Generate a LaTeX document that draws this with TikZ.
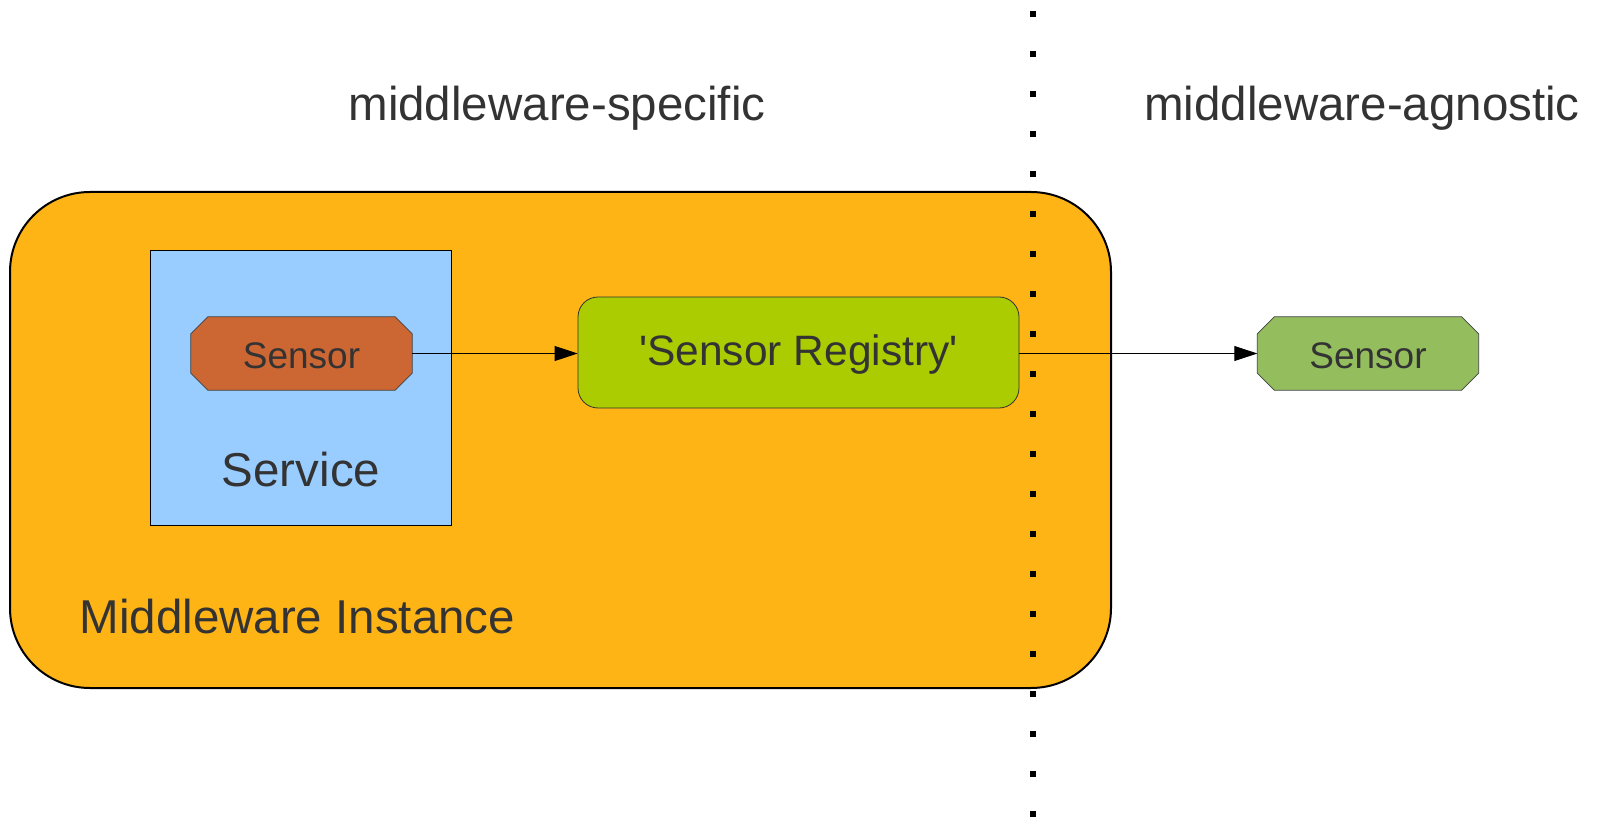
\documentclass[tikz,border=0pt]{standalone}
\usepackage{fontspec}
\setmainfont{Liberation Sans}
\usetikzlibrary{arrows.meta}
\definecolor{txt}{HTML}{333333}
\definecolor{mwfill}{HTML}{FFB416}
\definecolor{svcfill}{HTML}{99CCFF}
\definecolor{regfill}{HTML}{AACC00}
\definecolor{sensA}{HTML}{CC6633}
\definecolor{sensB}{HTML}{94BD5E}
\tikzset{
  bigtext/.style={text=txt,font=\fontsize{47.5}{56}\selectfont},
  sensorbox/.style={draw=none,minimum width=221pt,minimum height=73pt,inner sep=0pt},
  sensortext/.style={text=txt,font=\fontsize{37}{44}\selectfont,inner sep=0pt},
  octo/.style={draw=black!75,line width=0.8pt},
  conn/.style={line width=0.9pt,-{Triangle[length=23pt,width=15pt]}},
  sepdot/.style={fill=black}
}
\newcommand{\octagon}[2]{%
  \filldraw[octo,fill=#2]
    ([xshift=17pt]#1.north west) -- ([xshift=-17pt]#1.north east)
    -- ([yshift=-17pt]#1.north east) -- ([yshift=17pt]#1.south east)
    -- ([xshift=-17pt]#1.south east) -- ([xshift=17pt]#1.south west)
    -- ([yshift=17pt]#1.south west) -- ([yshift=-17pt]#1.north west) -- cycle;}
\begin{document}
\begin{tikzpicture}[x=1pt,y=-1pt]
\useasboundingbox (0,0) rectangle (1598,826);
\fill[white] (0,0) rectangle (1598,826);
% middleware instance
\node[draw=black,line width=2pt,fill=mwfill,rounded corners=80pt,
  minimum width=1101pt,minimum height=496pt,inner sep=0pt] (mw) at (560.5,440) {};
% service
\node[draw=black,line width=0.8pt,fill=svcfill,minimum width=301pt,minimum height=275pt,
  inner sep=0pt] (svc) at (300.5,387.5) {};
% registry
\node[draw=black!80,line width=0.8pt,fill=regfill,rounded corners=20pt,
  minimum width=441pt,minimum height=111pt,inner sep=0pt] (reg) at (798.5,352.5) {};
\node[text=txt,font=\fontsize{42.5}{50}\selectfont,inner sep=0pt] (regt) at (798.5,355)
  {\textquotesingle Sensor Registry\textquotesingle};
% sensors
\node[sensorbox] (s1) at (301.5,353.5) {};
\octagon{s1}{sensA}
\node[sensortext] (s1t) at (301.5,356) {Sensor};
\node[sensorbox] (s2) at (1368,353.5) {};
\octagon{s2}{sensB}
\node[sensortext] (s2t) at (1368,356) {Sensor};
% texts
\node[bigtext] (svct) at (301,470) {Service};
\node[bigtext,anchor=west] (mwt) at (76,617) {Middleware Instance};
\node[bigtext] (spec) at (557,108) {middleware-specific};
\node[bigtext] (agn) at (1362,108) {middleware-agnostic};
% dotted separator
\foreach \yy in {14,54,...,818} {
  \fill[sepdot] (1030,\yy-3) rectangle (1036,\yy+3);
}
% connectors
\draw[conn] (s1.east) -- (reg.west |- s1.east);
\draw[conn] (reg.east |- s2.west) -- (s2.west);
\end{tikzpicture}
\end{document}
